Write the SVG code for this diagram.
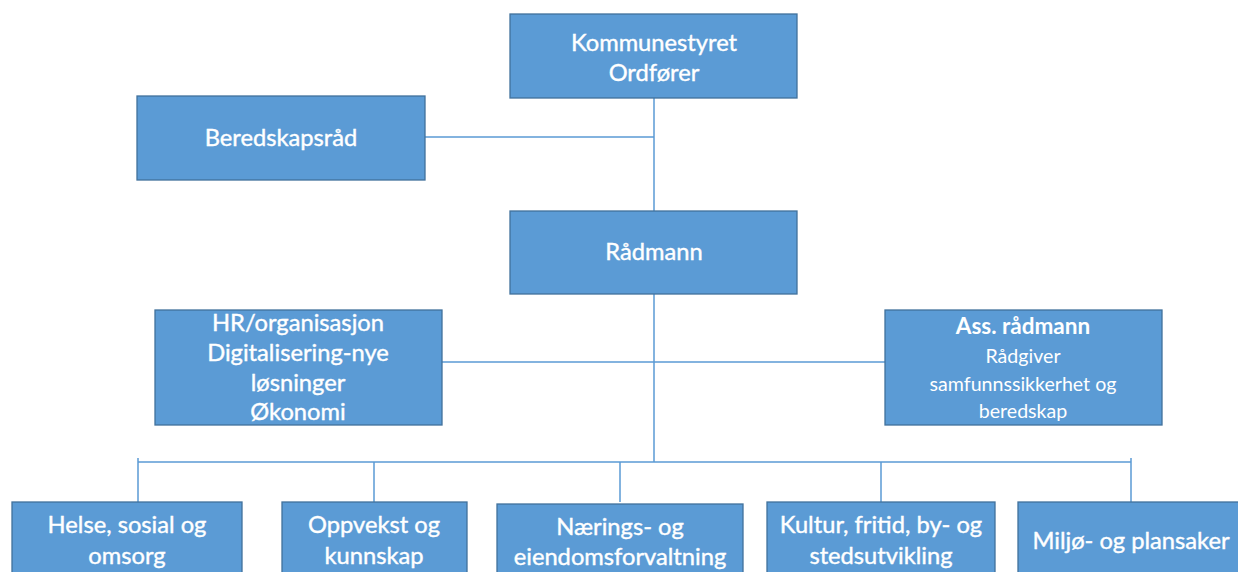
<svg xmlns="http://www.w3.org/2000/svg" width="1238" height="572" viewBox="0 0 1238 572">
<style>
.box{fill:#5b9bd5;stroke:#41719c;stroke-width:1.3}
.t{font-family:Lato,"Open Sans",sans-serif;font-size:23.7px;fill:#fff;text-anchor:middle;stroke:#fff;stroke-width:0.4}
.s{font-size:19.6px;stroke-width:0}
.b{font-weight:bold;font-size:22.5px;stroke-width:0}
.c{stroke:#5b9bd5;stroke-width:1.5;fill:none}
</style>
<rect width="1238" height="572" fill="#fff"/>
<g id="connectors">
<path class="c" d="M654 98V462M425 137H654M442 362H885M138 462H1131M138 458V502M374 462V502M620 462V502M881 462V502M1131 458V502"/>
</g>
<g id="kommunestyret"><rect class="box" x="510" y="14" width="287" height="84"/><text class="t" x="654" y="51">Kommunestyret</text><text class="t" x="654" y="81">Ordfører</text></g>
<g id="beredskapsrad"><rect class="box" x="137" y="96" width="288" height="84"/><text class="t" x="281" y="146">Beredskapsråd</text></g>
<g id="radmann"><rect class="box" x="510" y="211" width="287" height="83"/><text class="t" x="654" y="260">Rådmann</text></g>
<g id="hr"><rect class="box" x="155" y="310" width="287" height="115"/><text class="t" x="298" y="331">HR/organisasjon</text><text class="t" x="298" y="361">Digitalisering-nye</text><text class="t" x="298" y="391">løsninger</text><text class="t" x="298" y="420">Økonomi</text></g>
<g id="assradmann"><rect class="box" x="885" y="310" width="277" height="115"/><text class="t b" x="1023" y="334">Ass. rådmann</text><text class="t s" x="1023" y="363">Rådgiver</text><text class="t s" x="1023" y="391">samfunnssikkerhet og</text><text class="t s" x="1023" y="418">beredskap</text></g>
<g id="helse"><rect class="box" x="12" y="502" width="230" height="80"/><text class="t" x="127" y="533">Helse, sosial og</text><text class="t" x="127" y="564">omsorg</text></g>
<g id="oppvekst"><rect class="box" x="282" y="502" width="185" height="80"/><text class="t" x="374" y="533">Oppvekst og</text><text class="t" x="374" y="564">kunnskap</text></g>
<g id="naerings"><rect class="box" x="497" y="504" width="246" height="80"/><text class="t" x="620" y="535">Nærings- og</text><text class="t" x="620" y="565">eiendomsforvaltning</text></g>
<g id="kultur"><rect class="box" x="767" y="502" width="228" height="80"/><text class="t" x="881" y="533">Kultur, fritid, by- og</text><text class="t" x="881" y="564">stedsutvikling</text></g>
<g id="miljo"><rect class="box" x="1018" y="502" width="230" height="80"/><text class="t" x="1131" y="549">Miljø- og plansaker</text></g>
</svg>
